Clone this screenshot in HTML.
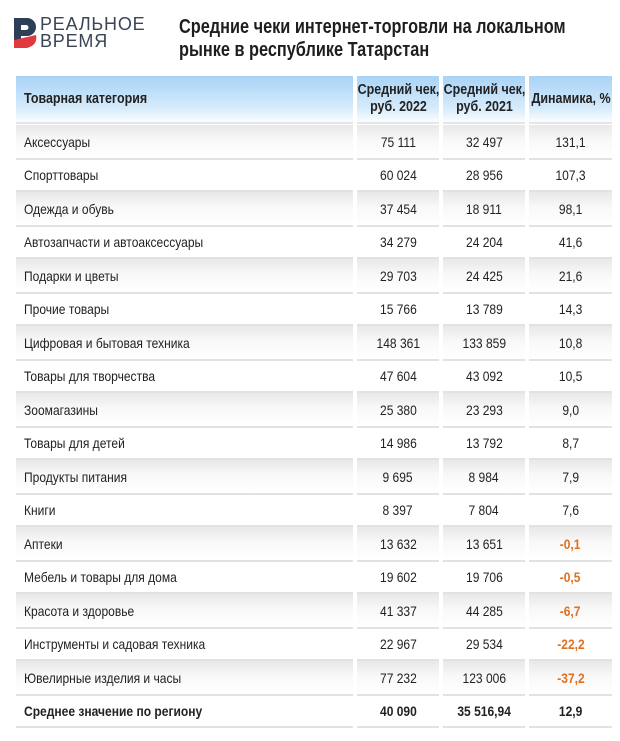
<!DOCTYPE html>
<html><head><meta charset="utf-8"><style>
body{margin:0;width:620px;height:741px;background:#fff;font-family:"Liberation Sans",sans-serif;color:#222;overflow:hidden;position:relative}
.logo{position:absolute;left:14px;top:18px}
.lt{position:absolute;left:40px;top:16px;font-family:"Liberation Sans",sans-serif;font-size:18px;line-height:17px;color:#3a4656;letter-spacing:0.8px}
.title{position:absolute;left:179px;top:16px;font-weight:bold;font-size:20px;line-height:23px;color:#1e1e1e;white-space:nowrap;transform:scaleX(0.815);transform-origin:0 0}
.row{position:absolute;left:16px;width:596px;display:flex}
.c{box-sizing:border-box;border-bottom:2px solid #e2e2e2;display:flex;align-items:center;font-size:14px;white-space:nowrap}
.c span{display:inline-block;transform:scaleX(0.86)}
.c1 span{transform-origin:0 50%}
.c1{width:337px;padding-left:8px}
.c2{width:82px;margin-left:4px;justify-content:center}
.c3{width:82px;margin-left:4px;justify-content:center}
.c4{width:83px;margin-left:4px;justify-content:center}
.g .c{background:linear-gradient(#e8e8e8,#f8f8f8 45%,#fff)}
.h .c{background:linear-gradient(#a8d3f6,#d6ebfb 70%,#fbfdff);border-bottom:2px solid #e6e6e6;font-weight:bold;font-size:14.5px;text-align:center;line-height:17px}
.neg{color:#e0701e;font-weight:bold}
.b{font-weight:bold}
</style></head><body>
<svg class="logo" width="24" height="30" viewBox="0 0 24 30">
<path d="M0 0H13A9 9 0 0 1 13 18H7V30H0Z" fill="#2c3f57"/>
<path d="M7 7H12A2.5 2.5 0 0 1 12 12H7Z" fill="#fff"/>
<path d="M0 22L22 17Q24 27 13 30H0Z" fill="#e03a3e"/>
</svg>
<div class="lt">РЕАЛЬНОЕ<br>ВРЕМЯ</div>
<div class="title">Средние чеки интернет-торговли на локальном<br>рынке в республике Татарстан</div>
<div class="row h" style="top:76px;height:48px">
<div class="c c1"><span>Товарная категория</span></div>
<div class="c c2"><span>Средний чек,<br>руб. 2022</span></div>
<div class="c c3"><span>Средний чек,<br>руб. 2021</span></div>
<div class="c c4"><span>Динамика, %</span></div>
</div>
<div id="rows"></div>
<script>
var d=[["Аксессуары","75 111","32 497","131,1"],["Спорттовары","60 024","28 956","107,3"],["Одежда и обувь","37 454","18 911","98,1"],["Автозапчасти и автоаксессуары","34 279","24 204","41,6"],["Подарки и цветы","29 703","24 425","21,6"],["Прочие товары","15 766","13 789","14,3"],["Цифровая и бытовая техника","148 361","133 859","10,8"],["Товары для творчества","47 604","43 092","10,5"],["Зоомагазины","25 380","23 293","9,0"],["Товары для детей","14 986","13 792","8,7"],["Продукты питания","9 695","8 984","7,9"],["Книги","8 397","7 804","7,6"],["Аптеки","13 632","13 651","-0,1"],["Мебель и товары для дома","19 602","19 706","-0,5"],["Красота и здоровье","41 337","44 285","-6,7"],["Инструменты и садовая техника","22 967","29 534","-22,2"],["Ювелирные изделия и часы","77 232","123 006","-37,2"],["Среднее значение по региону","40 090","35 516,94","12,9"]];
var h="",y=125;
d.forEach(function(r,i){var ht=i%2==0?35:32;var last=i==17;
var cl=(i%2==0&&!last)?"row g":"row";
var n=r[3][0]=="-"?"neg":"";var b=last?"b":"";
h+='<div class="'+cl+'" style="top:'+y+'px;height:'+ht+'px"><div class="c c1 '+b+'"><span>'+r[0]+'</span></div><div class="c c2 '+b+'"><span>'+r[1]+'</span></div><div class="c c3 '+b+'"><span>'+r[2]+'</span></div><div class="c c4 '+b+' '+n+'"><span>'+r[3]+'</span></div></div>';
y+=ht;});
document.getElementById("rows").innerHTML=h;
</script>
</body></html>
